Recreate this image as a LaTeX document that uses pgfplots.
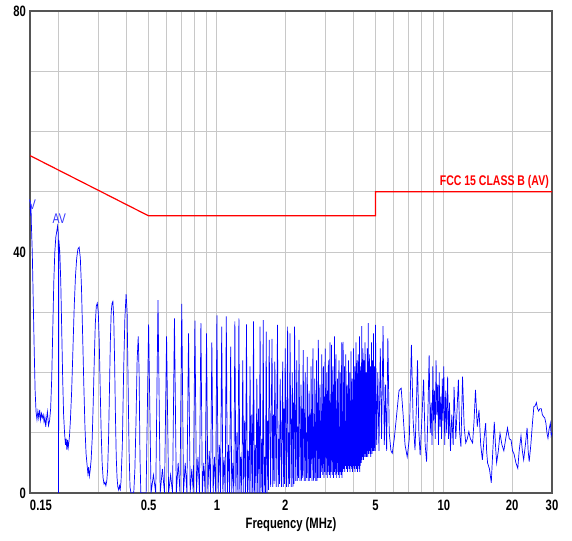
\documentclass[border=0pt]{standalone}
\usepackage{fontspec}
\setmainfont{Liberation Sans}[FakeStretch=0.75]
\usepackage{pgfplots}
\pgfplotsset{compat=1.18}
\definecolor{gridgray}{RGB}{200,200,200}
\definecolor{framegray}{RGB}{85,85,85}
\definecolor{trace}{RGB}{0,0,255}
\definecolor{limitred}{RGB}{255,0,0}
\begin{document}
\begin{tikzpicture}
\useasboundingbox (-30pt,-47pt) rectangle (542pt,493pt);
\begin{axis}[
    scale only axis,
    width=522pt, height=482pt,
    xmode=log,
    xmin=0.15, xmax=30,
    ymin=0, ymax=80,
    xtick={0.15,0.5,1,2,5,10,20,30},
    xticklabels={\makebox[0pt][l]{0.15},0.5,1,2,5,10,20,30},
    minor xtick={0.2,0.3,0.4,0.6,0.7,0.8,0.9,3,4,6,7,8,9},
    ytick={0,40,80},
    yticklabels={0,40,80},
    minor ytick={10,20,30,50,60,70},
    grid=both,
    major grid style={gridgray, line width=0.9pt},
    minor grid style={gridgray, line width=0.9pt},
    major tick length=0pt, minor tick length=0pt,
    axis line style={framegray, line width=1.6pt},
    tick label style={font=\fontsize{15}{15}\selectfont\bfseries},
    xticklabel style={anchor=center, yshift=-12pt, inner sep=0pt},
    yticklabel style={anchor=east, xshift=-4pt, inner sep=0pt},
    xlabel={Frequency (MHz)},
    xlabel style={at={(axis description cs:0.5,0)}, anchor=center, yshift=-32pt,
                  font=\fontsize{15}{15}\selectfont\bfseries},
]
% limit line FCC 15 class B (AV)
\addplot[limitred, line width=1.2pt] coordinates {
    (0.15,56) (0.5,46) (5,46) (5,50) (30,50)
};
% measured trace (AV)
\addplot[trace, line width=0.7pt] coordinates {
(0.1500,47) (0.1505,48.5) (0.1510,46) (0.1515,48) (0.1520,45) (0.1535,40) (0.1550,32) (0.1565,24)
(0.1580,17) (0.1595,13.5) (0.1610,12.2) (0.1625,13.6) (0.1640,12.4) (0.1655,13.8) (0.1670,12.1)
(0.1685,13.2) (0.1700,12.5) (0.1715,13.0) (0.1730,11.8) (0.1745,12.6) (0.1760,11.0) (0.1775,12.4)
(0.1790,13.5) (0.1810,11.2) (0.1830,12.0) (0.1850,14.0) (0.1870,19) (0.1890,27) (0.1910,35)
(0.1930,40) (0.1950,42.5) (0.1970,43.5) (0.1985,44.3) (0.2000,43) (0.2005,0) (0.2010,42)
(0.2030,40) (0.2050,35) (0.2070,27) (0.2090,19) (0.2110,13) (0.2130,10) (0.2150,8.0) (0.2165,9.0)
(0.2180,7.2) (0.2195,8.8) (0.2210,7.5) (0.2225,8.4) (0.2240,9.5) (0.2260,12) (0.2290,17) (0.2320,24)
(0.2350,31) (0.2380,36) (0.2410,39) (0.2440,40.5) (0.2470,40.8) (0.2500,39) (0.2530,34) (0.2560,26)
(0.2590,18) (0.2620,11) (0.2650,6.5) (0.2680,4.5) (0.2700,3.2) (0.2720,4.3) (0.2740,2.8) (0.2760,3.6)
(0.2790,5.5) (0.2820,9) (0.2850,15) (0.2880,22) (0.2910,28) (0.2940,31) (0.2970,31.5) (0.3000,30)
(0.3030,25) (0.3060,17) (0.3090,10) (0.3120,5) (0.3150,2.5) (0.3180,1.5) (0.3210,1.8) (0.3240,1.2)
(0.3270,2) (0.3300,4) (0.3330,9) (0.3360,17) (0.3390,25) (0.3420,30) (0.3450,31.5) (0.3480,31.8)
(0.3510,29) (0.3540,22) (0.3570,13) (0.3600,6) (0.3630,2.5) (0.3660,1) (0.3690,0.5) (0.3720,1.2)
(0.3750,0.6) (0.3780,2) (0.3830,8) (0.3880,20) (0.3930,29) (0.3980,33) (0.4020,30) (0.4060,18)
(0.4100,7) (0.4140,1) (0.4180,0) (0.4300,0) (0.4350,4) (0.4400,12) (0.4450,22) (0.4500,26)
(0.4540,20) (0.4580,6) (0.4620,0) (0.4875,0)
(0.500,28) (0.5125,0) (0.525,3) (0.5375,0)
(0.550,32) (0.5625,0) (0.575,4) (0.5875,0)
(0.600,26) (0.6125,0) (0.625,3) (0.6375,0)
(0.650,29) (0.6625,0) (0.675,5) (0.6875,0)
(0.700,31.4) (0.7125,0) (0.725,5) (0.7375,0)
(0.750,26.5) (0.7625,0) (0.775,4) (0.7875,0)
(0.800,28.6) (0.8125,0) (0.825,6) (0.8375,0)
(0.850,28.2) (0.8625,0) (0.875,5) (0.8875,0)
(0.900,26.5) (0.9125,0) (0.925,7) (0.9375,0)
(0.950,25) (0.9625,0) (0.975,6) (0.9875,0)
(1.000,29.5) (1.0125,0) (1.025,8) (1.0375,0)
(1.050,27.6) (1.0625,0) (1.075,6) (1.0875,0)
(1.100,29.3) (1.1125,0) (1.125,8) (1.1375,0)
(1.150,24.3) (1.1625,0) (1.175,5) (1.1875,0)
(1.200,28.5) (1.2125,0) (1.225,10) (1.2375,0)
(1.250,29) (1.2625,0) (1.275,6) (1.2875,0)
(1.300,22) (1.3125,0) (1.325,12) (1.3375,0)
(1.350,28) (1.3625,0) (1.375,7) (1.3875,0)
(1.400,21) (1.4125,0) (1.425,13) (1.4375,0)
(1.450,28.5) (1.4625,0) (1.475,8) (1.4875,0)
(1.500,19) (1.5125,0) (1.525,14) (1.5375,0)
(1.550,27.6) (1.5625,0) (1.575,9) (1.5875,0)
(1.600,28.7) (1.6125,0) (1.625,6) (1.6375,0)
(1.650,26.8) (1.6625,0) (1.675,12) (1.6875,0.5)
(1.700,25.4) (1.7250,1) (1.750,25.6) (1.7625,1) (1.775,13) (1.7875,1.5)
(1.800,21.8) (1.8250,1) (1.850,27.9) (1.8625,1) (1.875,9) (1.8875,1.5)
(1.900,19) (1.9250,1) (1.950,21.8) (1.9625,1) (1.975,14) (1.9875,1.5)
(2.000,24) (2.0250,1) (2.050,27.6) (2.0625,1) (2.075,10) (2.0875,1.5)
(2.100,26.5) (2.1250,1) (2.150,20) (2.1625,1) (2.175,15) (2.1875,1.5)
(2.200,27.6) (2.2250,2) (2.250,22) (2.2625,2) (2.275,11) (2.2875,2.5)
(2.300,25.4) (2.3250,2) (2.350,18) (2.3625,2) (2.375,14) (2.3875,2.5)
(2.400,23.7) (2.4250,2) (2.450,20) (2.4625,2) (2.475,10) (2.4875,2.5)
(2.500,22.6) (2.5250,2) (2.550,17) (2.5625,2) (2.575,13) (2.5875,2.5)
(2.600,21) (2.6250,2) (2.650,24) (2.6625,2) (2.675,11) (2.6875,2.5)
(2.700,19) (2.7250,2) (2.750,22) (2.7625,2) (2.775,15) (2.7875,2.5)
(2.800,25.4) (2.8250,2.5) (2.850,18) (2.8625,2.5) (2.875,12) (2.8875,3.5)
(2.900,23) (2.9250,3) (2.950,21) (2.9625,2.5) (2.975,16) (2.9875,3.5)
(3.000,24) (3.0250,3) (3.050,20) (3.0625,2.5) (3.075,17) (3.0875,3.5)
(3.100,22) (3.1250,3) (3.150,25) (3.1625,2.5) (3.175,15) (3.1875,3.5)
(3.200,24.6) (3.2250,3) (3.250,21) (3.2625,2.5) (3.275,18) (3.2875,3.5)
(3.300,26) (3.3250,3) (3.350,23) (3.3625,2.5) (3.375,14) (3.3875,3.5)
(3.400,19) (3.4250,3) (3.450,22) (3.4625,2.5) (3.475,11) (3.4875,3.5)
(3.500,20) (3.5250,3) (3.550,25) (3.5625,2.5) (3.575,12) (3.5875,3.5)
(3.600,25.1) (3.6250,4) (3.650,21) (3.6625,3.5) (3.675,11) (3.6875,4.5)
(3.700,23) (3.7250,4) (3.750,18) (3.7625,3.5) (3.775,13) (3.7875,4.5)
(3.800,22) (3.8250,4) (3.850,20) (3.8625,3.5) (3.875,12) (3.8875,4.5)
(3.900,23.5) (3.9250,4) (3.950,19) (3.9625,3.5) (3.975,14) (3.9875,4.5)
(4.000,24) (4.0250,4) (4.050,21) (4.0625,3.5) (4.075,15) (4.0875,4.5)
(4.100,25) (4.1250,4) (4.150,22) (4.1625,3.5) (4.175,16) (4.1875,4.5)
(4.200,23) (4.2250,4) (4.250,26) (4.2625,3.5) (4.275,14) (4.2875,4.5)
(4.300,21) (4.3250,5) (4.350,27.7) (4.3625,5.5) (4.375,13) (4.3875,6)
(4.400,24) (4.4250,5.5) (4.450,22) (4.4625,6) (4.475,15) (4.4875,6.5)
(4.500,25) (4.5250,6) (4.550,20) (4.5625,6) (4.575,14) (4.5875,7)
(4.600,24) (4.6250,6) (4.650,28.2) (4.6625,6.5) (4.675,13) (4.6875,7)
(4.700,23) (4.7250,6.5) (4.750,21) (4.7625,6) (4.775,15) (4.7875,7.5)
(4.800,25) (4.8250,6.5) (4.850,22) (4.8625,7) (4.875,12) (4.8875,7)
(4.900,26.5) (4.9250,7) (4.950,21) (4.9625,7.5) (4.975,13) (4.9875,7)
(5.00,27.9) (5.06,8) (5.12,20) (5.18,7) (5.25,24) (5.32,9) (5.40,27.7) (5.47,8) (5.53,18) (5.60,7)
(5.67,25.7) (5.75,10) (5.85,7) (5.93,6.6) (6.05,9) (6.20,13) (6.35,17) (6.49,17.4) (6.62,13)
(6.75,8) (6.90,6) (7.05,9) (7.20,24.6) (7.33,12) (7.47,7.1) (7.57,14) (7.66,22) (7.77,10) (7.87,6.3)
(8.00,12) (8.15,18.8) (8.28,8) (8.40,5.2) (8.50,12) (8.62,22.9) (8.72,10) (8.80,15) (8.88,8)
(8.95,21) (9.02,12) (9.10,17) (9.17,9) (9.25,22) (9.32,13) (9.40,18) (9.48,8) (9.55,20) (9.62,11)
(9.70,16) (9.78,9) (9.85,19) (9.92,12) (10.0,21) (10.1,8) (10.2,17) (10.3,10) (10.4,19.3) (10.5,9)
(10.6,15) (10.7,7) (10.85,13) (11.0,8) (11.1,17.6) (11.3,9) (11.45,14) (11.6,18.8) (11.75,10)
(11.9,7.7) (12.1,19.3) (12.3,11) (12.5,8.3) (12.7,9) (12.9,10.2) (13.1,9) (13.4,8.3) (13.6,12)
(13.8,17.1) (14.05,11) (14.3,13.8) (14.55,8) (14.8,5.5) (15.05,9) (15.3,11.6) (15.45,7) (15.6,5)
(15.9,4) (16.2,1.7) (16.45,7) (16.7,11.8) (16.9,8) (17.1,5) (17.4,7) (17.7,9.9) (18.05,8) (18.4,7)
(18.75,9) (19.1,10.8) (19.45,9) (19.8,8.8) (20.1,7) (20.4,6.5) (20.8,5) (21.2,4.1) (21.5,7) (21.9,9.5)
(22.2,7) (22.5,5.5) (22.9,8) (23.3,10.8) (23.55,7) (23.8,5.2) (24.2,8) (24.6,11.6) (24.95,14.3)
(25.3,14.5) (25.6,15) (25.9,14) (26.2,13.6) (26.55,14) (26.9,14) (27.2,13) (27.5,12.7) (27.85,12.5)
(28.2,11.6) (28.5,10) (28.8,9.1) (29.1,10.5) (29.5,11.6) (29.75,9.5) (30.0,10)
};
\node[text=limitred, anchor=south east, inner sep=0pt, yshift=3pt,
      font=\fontsize{14}{14}\selectfont\bfseries] at (axis cs:29.1,50) {FCC 15 CLASS B (AV)};
\node[text=trace!80, font=\fontsize{14}{14}\selectfont, inner sep=0pt] at (axis cs:0.202,45.5) {AV};
\node[text=trace!80, font=\fontsize{14}{14}\selectfont, inner sep=0pt] at (axis cs:0.149,47.8) {AV};
\end{axis}
\end{tikzpicture}
\end{document}
